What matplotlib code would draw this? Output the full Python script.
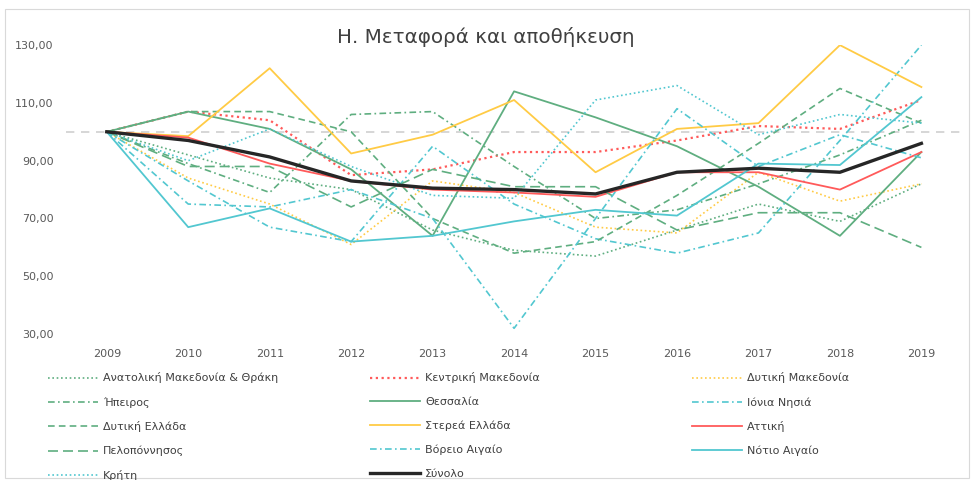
import matplotlib
matplotlib.use("Agg")
import matplotlib.pyplot as plt
from matplotlib.patches import Rectangle

years = ["2009", "2010", "2011", "2012", "2013", "2014", "2015", "2016", "2017", "2018", "2019"]

# index 2009 = 100
anat_makedonia_thraki = [100, 92, 84, 80, 66, 59, 57, 66, 75, 69, 82]
kentriki_makedonia = [100, 107, 104, 85, 87, 93, 93, 97, 102, 101, 111]
dytiki_makedonia = [100, 84, 75, 61, 83, 79, 67, 65, 86, 76, 82]
ipeiros = [100, 89, 79, 106, 107, 88, 70, 73, 82, 92, 104]
thessalia = [100, 107, 101, 87, 64, 114, 105, 95, 81, 64, 93]
ionia_nisia = [100, 83, 67, 62, 95, 75, 63, 58, 65, 97, 130]
dytiki_ellada = [100, 107, 107, 100, 70, 58, 62, 78, 96, 115, 103]
sterea_ellada = [100, 98.5, 122, 92.5, 99, 111, 86, 101, 103, 130, 115.5]
attiki = [100, 98, 89, 83, 80, 79, 77.5, 86, 86, 80, 93]
peloponnisos = [100, 88, 88, 74, 87, 81, 81, 66, 72, 72, 60]
voreio_aigaio = [100, 75, 74, 80, 70, 32, 70, 108, 88, 99, 91]
notio_aigaio = [100, 67, 73.5, 62, 64, 69, 73, 71, 89, 88.5, 112]
kriti = [100, 90, 101, 88, 78, 77, 111, 116, 99, 106, 103]
synolo = [100, 97, 91.3, 83, 80.5, 80, 78.5, 86, 87.4, 86, 96]

y_ticks = [30, 50, 70, 90, 110, 130]
y_tick_labels = ["30,00", "50,00", "70,00", "90,00", "110,00", "130,00"]

GREEN = "#5fae80"
CYAN = "#52c7d0"
YELLOW = "#ffcb45"
RED = "#ff5a5a"
BLACK = "#262626"

DOT = (0, (1, 1.6))
DASH = (0, (4, 2.5))
LDASH = (0, (6, 3))
DASHDOT = (0, (4, 2, 1, 2))

# (label, values, colour, linestyle, width)
series = [
    ("Ανατολική Μακεδονία & Θράκη", anat_makedonia_thraki, GREEN, DOT, 1.2),
    ("Κεντρική Μακεδονία", kentriki_makedonia, RED, DOT, 1.6),
    ("Δυτική Μακεδονία", dytiki_makedonia, YELLOW, DOT, 1.2),
    ("Ήπειρος", ipeiros, GREEN, DASHDOT, 1.2),
    ("Θεσσαλία", thessalia, GREEN, "-", 1.3),
    ("Ιόνια Νησιά", ionia_nisia, CYAN, DASHDOT, 1.2),
    ("Δυτική Ελλάδα", dytiki_ellada, GREEN, DASH, 1.2),
    ("Στερεά Ελλάδα", sterea_ellada, YELLOW, "-", 1.3),
    ("Αττική", attiki, RED, "-", 1.3),
    ("Πελοπόννησος", peloponnisos, GREEN, LDASH, 1.2),
    ("Βόρειο Αιγαίο", voreio_aigaio, CYAN, DASHDOT, 1.2),
    ("Νότιο Αιγαίο", notio_aigaio, CYAN, "-", 1.3),
    ("Κρήτη", kriti, CYAN, DOT, 1.2),
    ("Σύνολο", synolo, BLACK, "-", 2.4),
]

plt.rcParams['font.family'] = ['DejaVu Sans']

fig = plt.figure(figsize=(9.74, 4.8), dpi=100)
fig.patches.append(Rectangle((0.005, 0.004), 0.99, 0.978, transform=fig.transFigure,
                             fill=False, edgecolor="#d9d9d9", linewidth=0.8))
ax = fig.add_axes([0.0678, 0.304, 0.92, 0.602])

x = list(range(len(years)))
ax.axhline(100, color="#cfcfcf", linestyle=(0, (5, 4)), linewidth=1.2, zorder=1)

handles = []
for label, vals, col, ls, lw in series:
    line, = ax.plot(x, vals, color=col, linestyle=ls, linewidth=lw, label=label, zorder=2)
    handles.append(line)

ax.set_xlim(-0.5, len(years) - 0.5)
ax.set_ylim(30, 130)
ax.set_xticks(x)
ax.set_xticklabels(years)
ax.set_yticks(y_ticks)
ax.set_yticklabels(y_tick_labels)
ax.tick_params(length=0, labelsize=8, colors="#595959")
ax.tick_params(axis="x", pad=11)
ax.tick_params(axis="y", pad=9)
for s in ax.spines.values():
    s.set_visible(False)

fig.text(0.499, 0.923, "Η. Μεταφορά και αποθήκευση", ha="center", va="center",
         fontsize=14.3, color="#404040")

# Excel legend: 3 columns, filled row by row
col_x = [0.049, 0.380, 0.7105]
for c in range(3):
    hs = handles[c::3]
    fig.legend(handles=hs, labels=[h.get_label() for h in hs], loc="upper left",
               bbox_to_anchor=(col_x[c], 0.224), frameon=False, fontsize=8,
               handlelength=4.5, handletextpad=0.45, labelspacing=1.22,
               borderpad=0, borderaxespad=0, labelcolor="#404040")

fig.savefig("out.png", dpi=100)
